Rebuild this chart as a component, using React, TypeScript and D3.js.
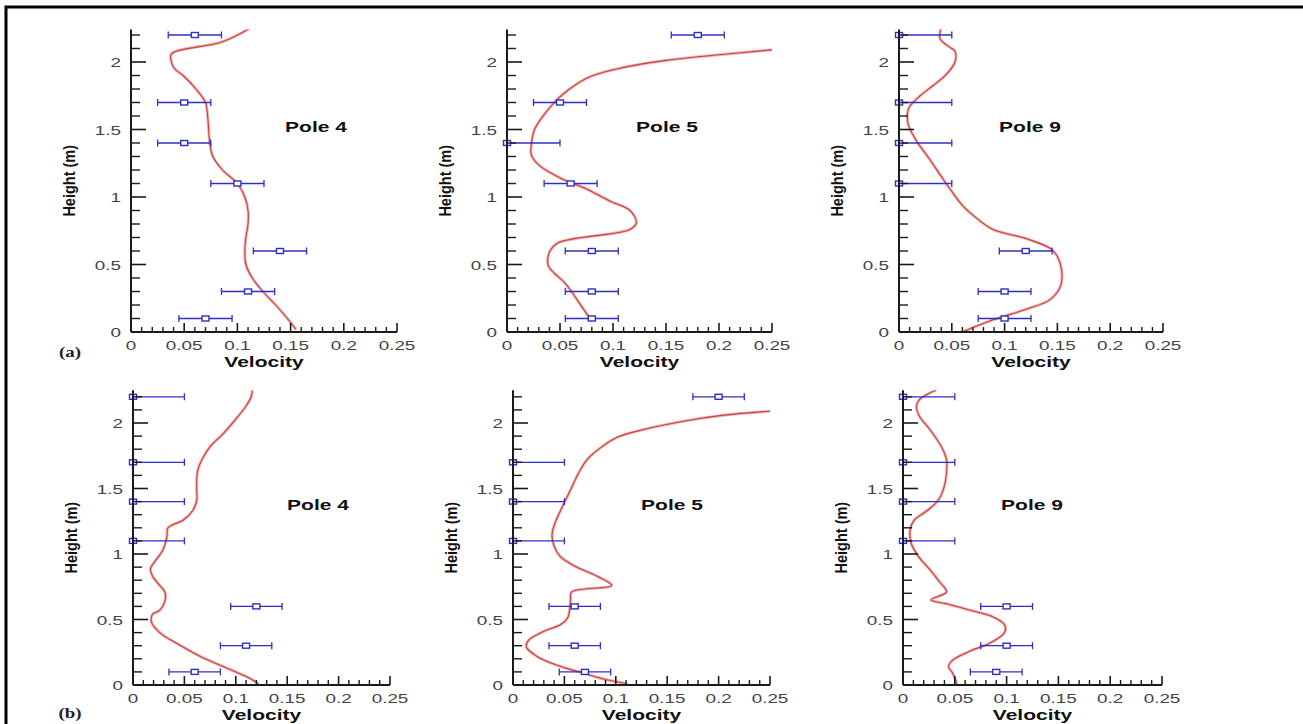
import * as d3 from 'd3'

// measurement heights (m), shared by all poles
const heights = [0.1, 0.3, 0.6, 1.1, 1.4, 1.7, 2.2]

// (a) measured velocities and error half-widths
const measA4 = [0.07, 0.11, 0.14, 0.1, 0.05, 0.05, 0.06]
const errA4 = [0.025, 0.025, 0.025, 0.025, 0.025, 0.025, 0.025]
const measA5 = [0.08, 0.08, 0.08, 0.06, 0, 0.05, 0.18]
const errA5 = [0.025, 0.025, 0.025, 0.025, 0.05, 0.025, 0.025]
const measA9 = [0.1, 0.1, 0.12, 0, 0, 0, 0]
const errA9 = [0.025, 0.025, 0.025, 0.05, 0.05, 0.05, 0.05]

// (b) measured velocities and error half-widths
const measB4 = [0.06, 0.11, 0.12, 0, 0, 0, 0]
const errB4 = [0.025, 0.025, 0.025, 0.05, 0.05, 0.05, 0.05]
const measB5 = [0.07, 0.06, 0.06, 0, 0, 0, 0.2]
const errB5 = [0.025, 0.025, 0.025, 0.05, 0.05, 0.05, 0.025]
const measB9 = [0.09, 0.1, 0.1, 0, 0, 0, 0]
const errB9 = [0.025, 0.025, 0.025, 0.05, 0.05, 0.05, 0.05]

// simulated profiles: velocity / height
const profA4V = [0.155, 0.147, 0.136, 0.124, 0.114, 0.108, 0.107, 0.108, 0.11, 0.11, 0.107, 0.1, 0.086, 0.077, 0.074, 0.073, 0.072, 0.07, 0.061, 0.049, 0.041, 0.038, 0.038, 0.086, 0.114]
const profA4H = [0.02, 0.1, 0.2, 0.3, 0.4, 0.5, 0.6, 0.7, 0.8, 0.9, 1.0, 1.1, 1.2, 1.3, 1.4, 1.5, 1.6, 1.7, 1.8, 1.9, 1.95, 2.0, 2.06, 2.15, 2.26]

const profA5V = [0.08, 0.066, 0.055, 0.044, 0.039, 0.04, 0.048, 0.116, 0.122, 0.116, 0.097, 0.075, 0.053, 0.031, 0.023, 0.023, 0.026, 0.034, 0.047, 0.059, 0.078, 0.11, 0.148, 0.195, 0.25]
const profA5H = [0.08, 0.24, 0.36, 0.44, 0.49, 0.59, 0.66, 0.76, 0.81, 0.9, 0.97, 1.06, 1.13, 1.23, 1.31, 1.39, 1.5, 1.6, 1.72, 1.8, 1.89, 1.96, 2.01, 2.05, 2.09]

const profA9V = [0.06, 0.089, 0.121, 0.143, 0.153, 0.154, 0.15, 0.143, 0.121, 0.089, 0.074, 0.061, 0.051, 0.042, 0.029, 0.017, 0.009, 0.008, 0.01, 0.02, 0.033, 0.045, 0.053, 0.053, 0.048, 0.039, 0.04]
const profA9H = [0.0, 0.09, 0.17, 0.24, 0.34, 0.46, 0.56, 0.62, 0.69, 0.76, 0.84, 0.93, 1.03, 1.13, 1.28, 1.41, 1.53, 1.62, 1.67, 1.75, 1.83, 1.91, 2.0, 2.08, 2.11, 2.17, 2.26]

const profB4V = [0.122, 0.114, 0.094, 0.065, 0.042, 0.026, 0.018, 0.019, 0.026, 0.031, 0.031, 0.026, 0.019, 0.017, 0.021, 0.029, 0.033, 0.034, 0.049, 0.058, 0.062, 0.062, 0.062, 0.063, 0.067, 0.075, 0.088, 0.1, 0.11, 0.115, 0.116]
const profB4H = [0.01, 0.05, 0.12, 0.22, 0.32, 0.4, 0.48, 0.54, 0.57, 0.64, 0.71, 0.76, 0.83, 0.89, 0.94, 1.03, 1.13, 1.2, 1.26, 1.33, 1.41, 1.49, 1.57, 1.64, 1.72, 1.82, 1.92, 2.03, 2.13, 2.2, 2.25]

const profB5V = [0.111, 0.091, 0.069, 0.043, 0.023, 0.013, 0.015, 0.03, 0.046, 0.053, 0.055, 0.056, 0.057, 0.096, 0.082, 0.062, 0.046, 0.04, 0.038, 0.041, 0.048, 0.056, 0.064, 0.072, 0.085, 0.101, 0.127, 0.163, 0.205, 0.25]
const profB5H = [0.01, 0.04, 0.09, 0.15, 0.22, 0.29, 0.34, 0.41, 0.46, 0.51, 0.57, 0.65, 0.71, 0.76, 0.83, 0.9, 0.98, 1.06, 1.15, 1.24, 1.36, 1.49, 1.62, 1.72, 1.81, 1.89, 1.95, 2.01, 2.06, 2.09]

const profB9V = [0.052, 0.048, 0.044, 0.048, 0.065, 0.084, 0.098, 0.098, 0.087, 0.065, 0.042, 0.027, 0.042, 0.035, 0.026, 0.016, 0.008, 0.007, 0.011, 0.023, 0.034, 0.04, 0.042, 0.042, 0.037, 0.026, 0.016, 0.013, 0.016, 0.026, 0.032]
const profB9H = [0.01, 0.09, 0.14, 0.19, 0.26, 0.32, 0.4, 0.46, 0.52, 0.57, 0.62, 0.65, 0.71, 0.79, 0.88, 0.97, 1.08, 1.19, 1.26, 1.33, 1.41, 1.52, 1.62, 1.72, 1.82, 1.95, 2.05, 2.13, 2.18, 2.23, 2.25]

const xMajorTicks = [0, 0.05, 0.1, 0.15, 0.2, 0.25]
const yMajorTicks = [0, 0.5, 1, 1.5, 2]

const panels = [
  { title: 'Pole 4', meas: measA4, err: errA4, pv: profA4V, ph: profA4H, x0: 131, x1: 397, yb: 332, y2: 62, yMax: 2.24, tx: 316, ty: 132 },
  { title: 'Pole 5', meas: measA5, err: errA5, pv: profA5V, ph: profA5H, x0: 507, x1: 772, yb: 332, y2: 62, yMax: 2.24, tx: 667, ty: 132 },
  { title: 'Pole 9', meas: measA9, err: errA9, pv: profA9V, ph: profA9H, x0: 899, x1: 1163, yb: 332, y2: 62, yMax: 2.24, tx: 1030, ty: 132 },
  { title: 'Pole 4', meas: measB4, err: errB4, pv: profB4V, ph: profB4H, x0: 133, x1: 390, yb: 685, y2: 423, yMax: 2.25, tx: 318, ty: 510 },
  { title: 'Pole 5', meas: measB5, err: errB5, pv: profB5V, ph: profB5H, x0: 513, x1: 770, yb: 685, y2: 423, yMax: 2.25, tx: 672, ty: 510 },
  { title: 'Pole 9', meas: measB9, err: errB9, pv: profB9V, ph: profB9H, x0: 903, x1: 1162, yb: 685, y2: 423, yMax: 2.25, tx: 1032, ty: 510 },
]

const SANS = '"Liberation Sans", Arial, Helvetica, sans-serif'
const BLUE = '#2f2fc4'

function WideText({ x, y, sx = 1.5, anchor = 'middle', size = 13, weight = 'normal', fill = '#444', family = SANS, children }: any) {
  return (
    <text transform={`translate(${x},${y}) scale(${sx},1)`} textAnchor={anchor}
      fontSize={size} fontWeight={weight} fill={fill} fontFamily={family}>
      {children}
    </text>
  )
}

function Panel({ p, idx }: any) {
  const x = d3.scaleLinear().domain([0, 0.25]).range([p.x0, p.x1])
  const y = d3.scaleLinear().domain([0, 2]).range([p.yb, p.y2])
  const yTop = y(p.yMax)
  const clipId = `clip${idx}`

  const line = d3.line<number>()
    .x((_, i) => x(p.pv[i]))
    .y((_, i) => y(p.ph[i]))
    .curve(d3.curveCatmullRom.alpha(0.5))

  const xMinor = d3.range(0, 26).map(i => i / 100).filter(v => Math.round(v * 100) % 5 !== 0)
  const yMinor = d3.range(1, 23).map(i => i / 10).filter(v => Math.round(v * 10) % 5 !== 0)

  const pathD = line(p.pv) || ''

  return (
    <g>
      <defs>
        <clipPath id={clipId}>
          <rect x={p.x0} y={yTop} width={p.x1 - p.x0} height={p.yb - yTop} />
        </clipPath>
      </defs>

      {/* simulated profile */}
      <g clipPath={`url(#${clipId})`}>
        <path d={pathD} fill="none" stroke="#f2b4b4" strokeWidth={3} />
        <path d={pathD} fill="none" stroke="#c8423f" strokeWidth={1.1} />
      </g>

      {/* measurements with error bars */}
      {p.meas.map((v: number, i: number) => {
        const lo = x(Math.max(0, v - p.err[i]))
        const hi = x(v + p.err[i])
        const cy = y(heights[i])
        return (
          <g key={i} stroke={BLUE} strokeWidth={1.3}>
            <line x1={lo} x2={hi} y1={cy} y2={cy} />
            <line x1={lo} x2={lo} y1={cy - 3.5} y2={cy + 3.5} />
            <line x1={hi} x2={hi} y1={cy - 3.5} y2={cy + 3.5} />
            <rect x={x(v) - 3.5} y={cy - 2.5} width={7} height={5} fill="white" strokeWidth={1.4} />
          </g>
        )
      })}

      {/* axes */}
      <g stroke="#1a1a1a">
        <line x1={p.x0} x2={p.x1} y1={p.yb} y2={p.yb} strokeWidth={2} />
        <line x1={p.x0} x2={p.x0} y1={p.yb} y2={yTop} strokeWidth={2} />
        {xMajorTicks.map(t => (
          <line key={`xM${t}`} x1={x(t)} x2={x(t)} y1={p.yb} y2={p.yb - 9} strokeWidth={1.6} />
        ))}
        {xMinor.map(t => (
          <line key={`xm${t}`} x1={x(t)} x2={x(t)} y1={p.yb} y2={p.yb - 5} strokeWidth={1.4} />
        ))}
        {yMajorTicks.map(t => (
          <line key={`yM${t}`} x1={p.x0} x2={p.x0 + 15} y1={y(t)} y2={y(t)} strokeWidth={1.6} />
        ))}
        {yMinor.map(t => (
          <line key={`ym${t}`} x1={p.x0} x2={p.x0 + 9} y1={y(t)} y2={y(t)} strokeWidth={1.4} />
        ))}
      </g>

      {xMajorTicks.map(t => (
        <WideText key={`xl${t}`} x={x(t)} y={p.yb + 18} sx={1.45}>{String(t)}</WideText>
      ))}
      {yMajorTicks.map(t => (
        <WideText key={`yl${t}`} x={p.x0 - 10} y={y(t) + 5} sx={1.45} anchor="end">{String(t)}</WideText>
      ))}

      <WideText x={(p.x0 + p.x1) / 2} y={p.yb + 35} size={14} weight="bold" fill="#111">Velocity</WideText>
      <text transform={`translate(${p.x0 - 56},${(p.yb + yTop) / 2}) scale(1.15,1) rotate(-90)`} textAnchor="middle"
        fontSize={14.5} fontWeight="bold" fill="#111" fontFamily={SANS}>Height (m)</text>
      <WideText x={p.tx} y={p.ty} size={14} weight="bold" fill="#111">{p.title}</WideText>
    </g>
  )
}

export default function App() {
  return (
    <svg width={1303} height={724} style={{ position: 'absolute', left: 0, top: 0, background: 'white' }}>
      <rect x={6} y={7} width={1310} height={740} fill="white" stroke="#000" strokeWidth={3} />
      {panels.map((p, i) => <Panel key={i} p={p} idx={i} />)}
      <WideText x={70} y={357} sx={1.35} size={14} weight="bold" fill="#222" family='"Liberation Serif", "Times New Roman", serif'>(a)</WideText>
      <WideText x={70} y={718} sx={1.35} size={14} weight="bold" fill="#222" family='"Liberation Serif", "Times New Roman", serif'>(b)</WideText>
    </svg>
  )
}
